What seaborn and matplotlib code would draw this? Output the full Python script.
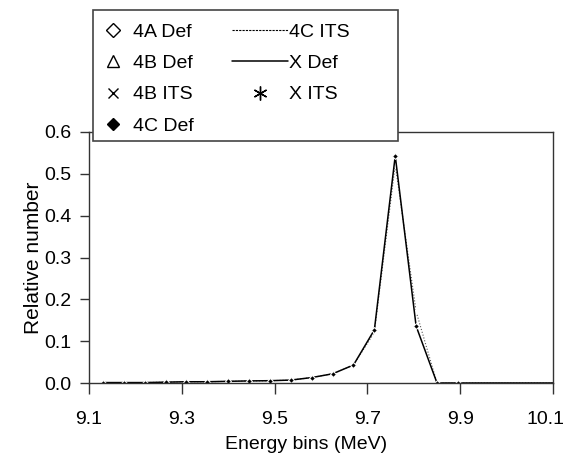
import matplotlib
matplotlib.use("Agg")
import matplotlib.pyplot as plt
from matplotlib.lines import Line2D
from matplotlib.patches import Rectangle
from matplotlib.transforms import ScaledTranslation
import seaborn as sns
import pandas as pd

# --- Data ---
energy = [9.13, 9.175, 9.22, 9.265, 9.31, 9.355, 9.40, 9.445, 9.49, 9.535,
          9.58, 9.625, 9.67, 9.715, 9.76, 9.805, 9.85, 9.895, 10.15]
def_values = [0.001, 0.001, 0.001, 0.002, 0.003, 0.003, 0.004, 0.005, 0.0055, 0.007,
              0.013, 0.022, 0.043, 0.127, 0.543, 0.136, 0.0, 0.0, 0.0]
its_values = [0.001, 0.001, 0.001, 0.002, 0.003, 0.003, 0.004, 0.005, 0.0055, 0.007,
              0.013, 0.022, 0.043, 0.121, 0.522, 0.171, 0.0, 0.0, 0.0]
x_ticks = [9.1, 9.3, 9.5, 9.7, 9.9, 10.1]
y_ticks = [0.0, 0.1, 0.2, 0.3, 0.4, 0.5, 0.6]

df = pd.DataFrame({'Energy': energy, 'Def': def_values, 'ITS': its_values})

sns.set_style("ticks")
plt.rcParams['font.family'] = ['Liberation Sans', 'DejaVu Sans']
plt.rcParams['text.color'] = 'black'
plt.rcParams['axes.labelcolor'] = 'black'
plt.rcParams['xtick.color'] = 'black'
plt.rcParams['ytick.color'] = 'black'

fig = plt.figure(figsize=(5.65, 4.58), dpi=100)
ax = fig.add_axes([89 / 565, 1 - 383 / 458, 464 / 565, 251 / 458])

# ITS curves (dotted line, x and asterisk markers)
sns.lineplot(data=df, x='Energy', y='ITS', color='#555555', linewidth=0.8,
             linestyle=':', ax=ax)
sns.lineplot(data=df, x='Energy', y='ITS', color='black', linestyle='none',
             marker='x', markersize=4, markeredgewidth=0.9, ax=ax)
sns.lineplot(data=df, x='Energy', y='ITS', color='black', linestyle='none',
             marker=(6, 2, 0), markersize=5, markeredgewidth=0.8, ax=ax)
# Def curves (solid line, filled diamonds)
sns.lineplot(data=df, x='Energy', y='Def', color='black', linewidth=1.1, ax=ax)
sns.lineplot(data=df, x='Energy', y='Def', color='black', linestyle='none',
             marker='D', markersize=3, ax=ax)

ax.set_xlim(9.1, 10.1)
ax.set_ylim(0, 0.6)
ax.set_xticks(x_ticks)
ax.set_xticklabels([f"{t:.1f}" for t in x_ticks])
ax.set_yticks(y_ticks)
ax.set_yticklabels([f"{t:.1f}" for t in y_ticks])
ax.tick_params(direction='out', width=1, color='#333333', labelsize=14)
ax.tick_params(axis='x', length=8, pad=12)
ax.tick_params(axis='y', length=6.5, pad=6)
for s in ax.spines.values():
    s.set_color('#333333')
    s.set_linewidth(1.0)

# keep the last x tick label inside the figure
last = ax.get_xticklabels()[-1]
last.set_transform(last.get_transform() + ScaledTranslation(-7 / 100, 0, fig.dpi_scale_trans))

ax.set_xlabel('Energy bins (MeV)', fontsize=14)
ax.set_ylabel('Relative number', fontsize=15)
ax.xaxis.set_label_coords(0.468, -0.21)
ax.yaxis.set_label_coords(-0.1, 0.5)

# --- Legend (two columns in one white box) ---
frame = Rectangle((93 / 565, 1 - 141 / 458), 305 / 565, 131 / 458,
                  transform=fig.transFigure, facecolor='white',
                  edgecolor='#444444', linewidth=1.2, zorder=4)
fig.add_artist(frame)

h1 = [Line2D([], [], color='black', linestyle='none', marker='D', markersize=7,
             markerfacecolor='none', markeredgewidth=1),
      Line2D([], [], color='black', linestyle='none', marker='^', markersize=9,
             markerfacecolor='none', markeredgewidth=1),
      Line2D([], [], color='black', linestyle='none', marker='x', markersize=7,
             markeredgewidth=1),
      Line2D([], [], color='black', linestyle='none', marker='D', markersize=6)]
l1 = ['4A Def', '4B Def', '4B ITS', '4C Def']
h2 = [Line2D([], [], color='black', linestyle='--', dashes=(2, 1), linewidth=0.8),
      Line2D([], [], color='black', linewidth=1.1),
      Line2D([], [], color='black', linestyle='none', marker=(6, 2, 0),
             markersize=10, markeredgewidth=1)]
l2 = ['4C ITS', 'X Def', 'X ITS']

leg1 = fig.legend(h1, l1, loc='upper left', bbox_to_anchor=(102 / 565, 1 - 23 / 458),
                  frameon=False, borderpad=0, borderaxespad=0, handlelength=1.13,
                  handletextpad=0.46, labelspacing=0.71, fontsize=14)
leg2 = fig.legend(h2, l2, loc='upper left', bbox_to_anchor=(232 / 565, 1 - 23 / 458),
                  frameon=False, borderpad=0, borderaxespad=0, handlelength=2.9,
                  handletextpad=0.05, labelspacing=0.71, fontsize=14)
leg1.set_zorder(6)
leg2.set_zorder(6)

plt.savefig('out.png', dpi=100)
print("Saved chart: out.png")
